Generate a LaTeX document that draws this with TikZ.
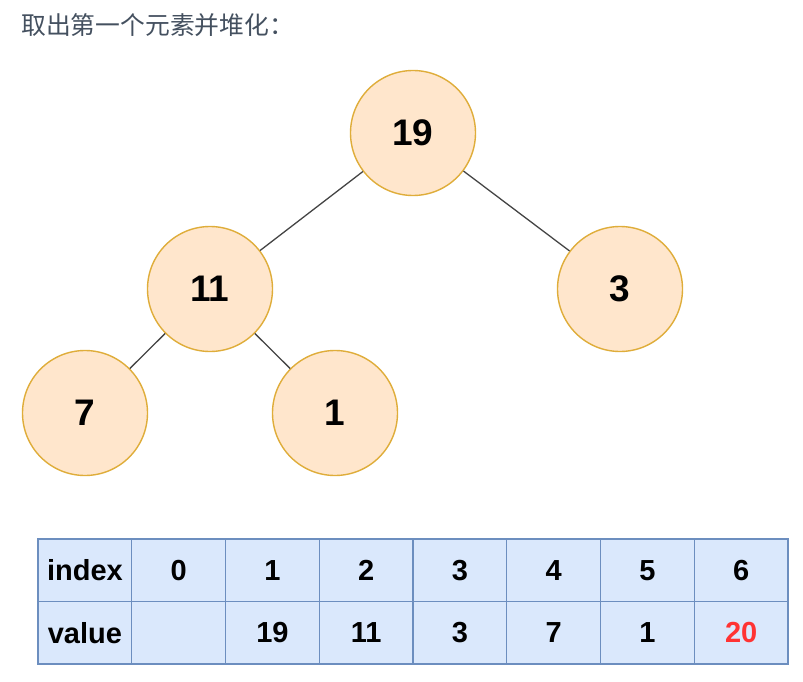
\documentclass[tikz,border=0pt]{standalone}
\usepackage{fontspec}
\setmainfont{Liberation Sans}
\newfontfamily\cjk{Noto Sans CJK SC}
\definecolor{nodefill}{HTML}{FFE6CC}
\definecolor{nodedraw}{HTML}{DFAD3A}
\definecolor{cellfill}{HTML}{DAE8FC}
\definecolor{celldraw}{HTML}{6C8EBF}
\definecolor{titlecol}{HTML}{44505F}
\definecolor{edgecol}{HTML}{444444}
\definecolor{hot}{HTML}{FF3333}
\begin{document}
\begin{tikzpicture}[x=1pt,y=-1pt,
  heapnode/.style={circle, draw=nodedraw, fill=nodefill, line width=1.4pt, minimum size=125pt, inner sep=0pt, font=\fontsize{37}{40}\selectfont\bfseries},
  edge/.style={draw=edgecol, line width=1.3pt},
  cell/.style={rectangle, draw=celldraw, fill=cellfill, line width=1.1pt, minimum width=93.75pt, minimum height=62.5pt, inner sep=0pt, font=\fontsize{29}{32}\selectfont\bfseries}
]
\useasboundingbox (0,0) rectangle (803,682);
\node[anchor=west, text=titlecol, font=\cjk\fontsize{24.8}{27}\selectfont, inner sep=0pt] (title) at (21,25) {取出第一个元素并堆化：};

\node[heapnode] (n19) at (413,133) {19};
\node[heapnode] (n11) at (210,289) {11};
\node[heapnode] (n3) at (620,289) {3};
\node[heapnode] (n7) at (85,413) {7};
\node[heapnode] (n1) at (335,413) {1};

\draw[edge] (n19) -- (n11);
\draw[edge] (n19) -- (n3);
\draw[edge] (n11) -- (n7);
\draw[edge] (n11) -- (n1);

\foreach \lab [count=\i from 0] in {index,0,1,2,3,4,5,6} {
  \node[cell] (i\i) at ({38+93.75*\i+46.875},570.25) {\lab};
}
\foreach \lab [count=\i from 0] in {value,,19,11,3,7,1} {
  \node[cell] (v\i) at ({38+93.75*\i+46.875},632.75) {\lab};
}
\node[cell, text=hot] (v7) at ({38+93.75*7+46.875},632.75) {20};
\end{tikzpicture}
\end{document}
